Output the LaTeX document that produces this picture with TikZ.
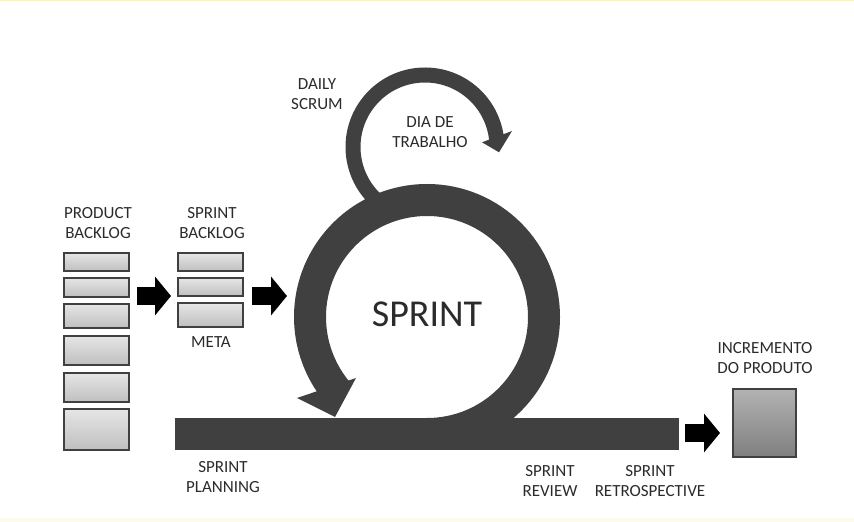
\documentclass[tikz,border=0pt]{standalone}
\usepackage{fontspec}
\setmainfont{Carlito}
\usetikzlibrary{positioning,arrows.meta}

\definecolor{anel}{HTML}{404040}
\definecolor{texto}{HTML}{2B2B2B}
\definecolor{amarelo}{HTML}{FFF59D}
\definecolor{creme}{HTML}{FFFBEA}

\tikzset{
  caixa/.style={draw=black!75, line width=2pt, top color=black!10, bottom color=black!25,
    minimum width=65pt, inner sep=0pt},
  rotulo/.style={text=texto, align=center, font=\fontsize{17}{20}\selectfont},
  seta/.style={line width=18pt, -{Triangle[length=16pt,width=38pt]}},
}

\begin{document}
\begin{tikzpicture}[x=1pt, y=1pt]
        \useasboundingbox (0,0) rectangle (854,522);
        \fill[white] (0,0) rectangle (854,522);
        \fill[amarelo] (0,520.5) rectangle (854,522);
        \fill[creme] (0,0) rectangle (854,4);

        % Product backlog
        \node[caixa, minimum height=18pt] (pb1) at (96.5,260) {};
        \node[caixa, minimum height=19pt, below=5pt of pb1] (pb2) {};
        \node[caixa, minimum height=24pt, below=5pt of pb2] (pb3) {};
        \node[caixa, minimum height=29pt, below=6pt of pb3] (pb4) {};
        \node[caixa, minimum height=29pt, below=6pt of pb4] (pb5) {};
        \node[caixa, minimum height=41pt, below=5pt of pb5] (pb6) {};
        \node[rotulo] (tpb) at (98,299) {PRODUCT\\BACKLOG};

        % Sprint backlog
        \node[caixa, minimum height=18pt] (sb1) at (210,260) {};
        \node[caixa, minimum height=18pt, below=5pt of sb1] (sb2) {};
        \node[caixa, minimum height=24pt, below=5pt of sb2] (sb3) {};
        \node[rotulo] (tsb) at (212,299) {SPRINT\\BACKLOG};
        \node[rotulo] (meta) at (211,180) {META};

        % Setas
        \coordinate (s1a) at (137,226);
        \coordinate (s1b) at (171,226);
        \coordinate (s2a) at (252,226);
        \coordinate (s2b) at (287,226);
        \coordinate (s3a) at (685,89);
        \coordinate (s3b) at (720,89);
        \draw[seta] (s1a) -- (s1b);
        \draw[seta] (s2a) -- (s2b);
        \draw[seta] (s3a) -- (s3b);

        % Barra do sprint
        \node[fill=anel, minimum width=504pt, minimum height=32pt, inner sep=0pt, outer sep=0pt]
          (barra) at (427,88) {};

        % Anel do sprint
        \coordinate (centro) at (427,205);
        \draw[anel, line width=32pt] (centro) ++(-90:117) arc[start angle=-90, end angle=220, radius=117];
        \fill[anel] (297,124) -- (356,144) -- (335,105) -- cycle;
        \node[text=texto, font=\fontsize{38}{40}\selectfont] (sprint) at (427,208) {SPRINT};

        % Daily scrum
        \coordinate (laco) at (425,375);
        \draw[anel, line width=15pt] (laco) ++(230:72) arc[start angle=230, end angle=5, radius=72];
        \fill[anel] (482,379.7) -- (512,391) -- (499,369.7) -- cycle;
        \node[rotulo] (daily) at (317,427.5) {DAILY\\SCRUM};
        \node[rotulo] (dia) at (430,390) {DIA DE\\TRABALHO};

        % Incremento
        \node[caixa, minimum width=63pt, minimum height=68pt, top color=black!30, bottom color=black!50]
          (incremento) at (764.5,99) {};
        \node[rotulo] (tincr) at (765,164) {INCREMENTO\\DO PRODUTO};

        % Eventos
        \node[rotulo] (plan) at (223,45) {SPRINT\\PLANNING};
        \node[rotulo] (rev) at (550,41) {SPRINT\\REVIEW};
        \node[rotulo] (retro) at (650,41) {SPRINT\\RETROSPECTIVE};
    \end{tikzpicture}
\end{document}
